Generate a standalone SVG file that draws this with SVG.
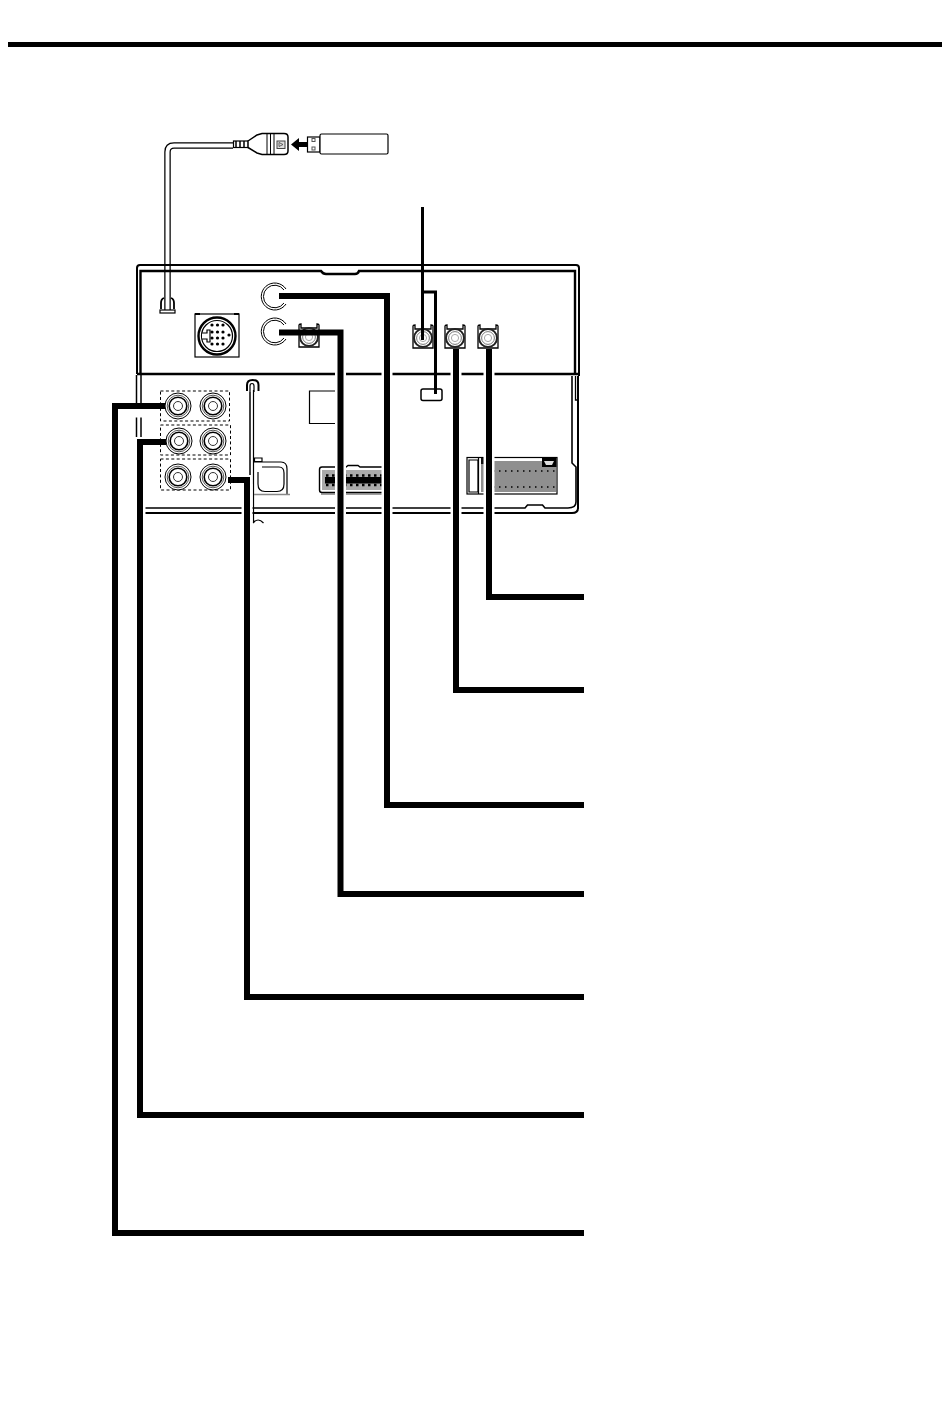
<svg xmlns="http://www.w3.org/2000/svg" width="950" height="1402" viewBox="0 0 950 1402">
<style>
.k{fill:none;stroke:#000;stroke-width:1.2}
.m{fill:none;stroke:#000;stroke-width:2}
.h{fill:none;stroke:#000;stroke-width:2.6}
.w{fill:#fff;stroke:#000;stroke-width:1.2}
.d{fill:none;stroke:#000;stroke-width:1;stroke-dasharray:3 2.4}
.wire{fill:none;stroke:#000;stroke-width:6;stroke-linejoin:miter}
.halo{fill:none;stroke:#fff;stroke-width:11}
.thin{fill:none;stroke:#000;stroke-width:3}
.dot{fill:#000}
</style>
<defs>
<g id="rca"><circle r="13" fill="#fff" stroke="#000" stroke-width="1"/><circle r="10.8" fill="none" stroke="#555" stroke-width="1"/><circle r="8.800" fill="none" stroke="#000" stroke-width="1.600"/><circle r="4.500" fill="none" stroke="#333" stroke-width="1"/></g>
<g id="ant"><path d="M-10 -12Q-10 -13 -8 -13V-9H8V-13Q10 -13 10 -12V10H-10Z" fill="#fff" stroke="#000" stroke-width="1.300"/><path d="M-6 -6.500H6" stroke="#000" stroke-width="1"/><circle r="9" fill="#fff" stroke="#222" stroke-width="2"/><circle r="6.400" fill="#fff" stroke="#777" stroke-width="1"/><circle r="3.600" fill="#fff" stroke="#aaa" stroke-width="1"/></g>
</defs>

<rect id="top-rule" x="8" y="42" width="934" height="5" fill="#000"/>

<g id="usb-cable">
<path d="M233 145.500H174Q167.500 145.500 167.500 152V311" fill="none" stroke="#000" stroke-width="6.500"/>
<path d="M233 145.500H174Q167.500 145.500 167.500 152V311" fill="none" stroke="#fff" stroke-width="4"/>
<rect x="233.500" y="141" width="15" height="6.500" class="w"/>
<path d="M236 141V147M240 141V147M244 141V147" stroke="#000" stroke-width="1.500"/>
<path d="M248 141L257 135L262 133.500H284Q288 133.500 288 137V151Q288 154.500 284 154.500H262L257 153L248 147.500Z" fill="#fff" stroke="#000" stroke-width="1.500"/>
<path d="M267 133.500V154.500M270.500 133.500V154.500M274 133.500V154.500" stroke="#000" stroke-width="1"/>
<rect x="277" y="141" width="8" height="7.500" fill="#ddd" stroke="#444" stroke-width="1"/>
<path d="M279 142.500L283 144.500L279 146.500Z" fill="none" stroke="#444" stroke-width="0.800"/>
<path d="M291 144.500L299 138V142H307V147H299V151Z" fill="#000"/>
</g>
<g id="usb-stick">
<rect x="307.500" y="137" width="12.500" height="15" class="w"/>
<rect x="312" y="138.500" width="3" height="3" fill="none" stroke="#555" stroke-width="1"/><rect x="312" y="147" width="3" height="3" fill="none" stroke="#555" stroke-width="1"/>
<rect x="320" y="134" width="68" height="20" rx="1.500" class="w" stroke-width="1.400"/>
</g>

<g id="head-unit">
<path d="M137 374V268Q137 265 140 265H576Q579 265 579 268V376" class="m"/>
<path d="M140.500 374V271H321Q323 274 326 274H355Q358 274 359 271H575V374" fill="none" stroke="#000" stroke-width="2.400"/>
<path d="M137 374H579" class="h"/>
<path d="M136.500 375V437" fill="none" stroke="#000" stroke-width="1.500"/>
<path d="M141 375V437" fill="none" stroke="#000" stroke-width="1.500"/>
<path d="M145 513H572Q578 513 578 508V376" class="m"/>
<path d="M145 508H525L527.500 505H542.500L545 508H568Q576 508 576 502V467L572 463V376" fill="none" stroke="#000" stroke-width="1.600"/>
<path d="M575.500 376V400H578" fill="none" stroke="#000" stroke-width="1.300"/>
</g>

<g id="port-usb"><path d="M161 309V303Q161 299 164 298M174 309V303Q174 299 171 298" fill="none" stroke="#000" stroke-width="1.800"/><rect x="160" y="310" width="15" height="3" class="w" stroke-width="1.400"/></g>
<g id="port-din">
<rect x="195" y="314" width="44" height="43" fill="#fff" stroke="#000" stroke-width="1.200"/>
<rect x="195" y="313" width="5" height="2" fill="#000"/><rect x="234" y="313" width="5" height="2" fill="#000"/>
<circle cx="217" cy="336" r="18.500" fill="none" stroke="#000" stroke-width="2.400"/>
<circle cx="217" cy="336" r="15.500" class="k"/>
<path d="M202 333H207V330H210V342H207V339H202" class="w"/>
<g class="dot"><circle cx="212" cy="325" r="1.600"/><circle cx="217.500" cy="325" r="1.600"/><circle cx="223" cy="325" r="1.600"/><circle cx="212" cy="332" r="1.600"/><circle cx="217.500" cy="332" r="1.600"/><circle cx="223" cy="332" r="1.600"/><circle cx="212" cy="338" r="1.600"/><circle cx="217.500" cy="338" r="1.600"/><circle cx="223" cy="338" r="1.600"/><circle cx="229" cy="335" r="1.600"/><circle cx="212" cy="344" r="1.600"/><circle cx="217.500" cy="344" r="1.600"/><circle cx="223" cy="344" r="1.600"/></g>
</g>
<g id="port-round-1"><path d="M286 289A13.500 13.500 0 1 0 286 304" fill="none" stroke="#000" stroke-width="1"/><path d="M284 290A11.300 11.300 0 1 0 284 303" fill="none" stroke="#000" stroke-width="1"/></g>
<g id="port-round-2"><path d="M286 324A13.500 13.500 0 1 0 286 339" fill="none" stroke="#000" stroke-width="1"/><path d="M284 325A11.300 11.300 0 1 0 284 338" fill="none" stroke="#000" stroke-width="1"/></g>
<g id="port-ant-1"><use href="#ant" x="309" y="337"/></g>
<g id="port-ant-2"><use href="#ant" x="423" y="338"/></g>
<g id="port-ant-3"><use href="#ant" x="455" y="338"/></g>
<g id="port-ant-4"><use href="#ant" x="488" y="338"/></g>
<g id="port-slot"><rect x="421" y="389" width="21" height="11.500" rx="2" fill="#fff" stroke="#000" stroke-width="1.500"/></g>
<g id="rca-block">
<rect x="160.500" y="391" width="69" height="30" class="d"/>
<rect x="160.500" y="425" width="70" height="30" class="d"/>
<rect x="160.500" y="459" width="70" height="31" class="d"/>
<use href="#rca" x="178" y="406"/><use href="#rca" x="213" y="406"/>
<use href="#rca" x="179" y="441"/><use href="#rca" x="213" y="441"/>
<use href="#rca" x="178" y="477"/><use href="#rca" x="213" y="477"/>
</g>
<g id="aux-cable">
<path d="M247 391V385Q247 380 252.500 380Q258.500 380 258.500 385V391" fill="none" stroke="#000" stroke-width="2"/>
<path d="M250 392V386Q250 383.500 252 383.500Q254 383.500 254 386V392" fill="#fff" stroke="#000" stroke-width="1.200"/>
<path d="M250 392V475" fill="none" stroke="#000" stroke-width="1.500"/>
<path d="M253.500 390V522" class="k"/>
<path d="M253 523Q258 517 263.500 523" class="k"/>
</g>
<g id="port-d">
<path d="M254.500 458H262V461.500H254.500Z" class="w"/>
<path d="M254 462H281Q287 462 287 469V494" class="k"/>
<path d="M262 467H279Q284 467 284 473V484Q284 491.500 277 491.500H265Q258 491.500 258 484V472" class="k"/>
<path d="M254 494.500H290" fill="none" stroke="#888" stroke-width="1.500"/>
</g>
<g id="port-square"><path d="M335 391H309.500V423.500H335" class="k"/></g>
<g id="port-multi">
<path d="M382 467H360L358 465.500H348L346 467H322Q319.500 467 319.500 469.500V490Q319.500 492.500 322 492.500H382" fill="#fff" stroke="#000" stroke-width="1.400"/>
<rect x="322" y="470" width="60" height="20" fill="#aaa"/>
<rect x="325" y="477" width="57" height="6.500" fill="#000"/>
<path d="M326 475.500H382M326 485H382" stroke="#000" stroke-width="2.400" stroke-dasharray="2.500 3.500"/>
<rect x="321" y="493" width="61" height="1.800" fill="#888"/>
</g>
<g id="port-wide">
<rect x="467" y="457.500" width="90" height="36.500" fill="#fff" stroke="#000" stroke-width="1.200"/>
<path d="M478.500 458V494" class="k"/>
<path d="M469 460H478V492H469Z" class="k"/>
<rect x="481" y="461" width="75" height="31" fill="#8f8f8f"/>
<rect x="542" y="458" width="14.500" height="9" fill="#000"/>
<path d="M544 461H554L552 465H546Z" fill="#ddd"/>
<rect x="481" y="458" width="5" height="6" fill="#111"/>
<path d="M493 471H555M493 487H555" stroke="#000" stroke-width="1.500" stroke-dasharray="1.500 4.500"/>
</g>

<g id="connectors">
<path class="halo" d="M489 349V540"/><path class="halo" d="M456 349V540"/>
<path class="halo" d="M387 302V540"/><path class="halo" d="M340.500 338V540"/>
<path class="halo" d="M247 484V540"/><path class="halo" d="M140 446V540" stroke-width="9"/><path class="halo" d="M115 412H145"/>
<path class="wire" d="M489 349V597H584"/>
<path class="wire" d="M456 349V690H584"/>
<path class="wire" d="M279 296H387V805H584"/>
<path class="wire" d="M279 332.500H340.500V894H584"/>
<path class="wire" d="M228 480H247V997H584"/>
<path class="wire" d="M166 442H140V1115H584"/>
<path class="wire" d="M165 406H115V1233H584"/>
<path class="thin" d="M422.500 207V340"/>
<path class="thin" d="M422.500 292H435.500V394"/>
</g>
</svg>
